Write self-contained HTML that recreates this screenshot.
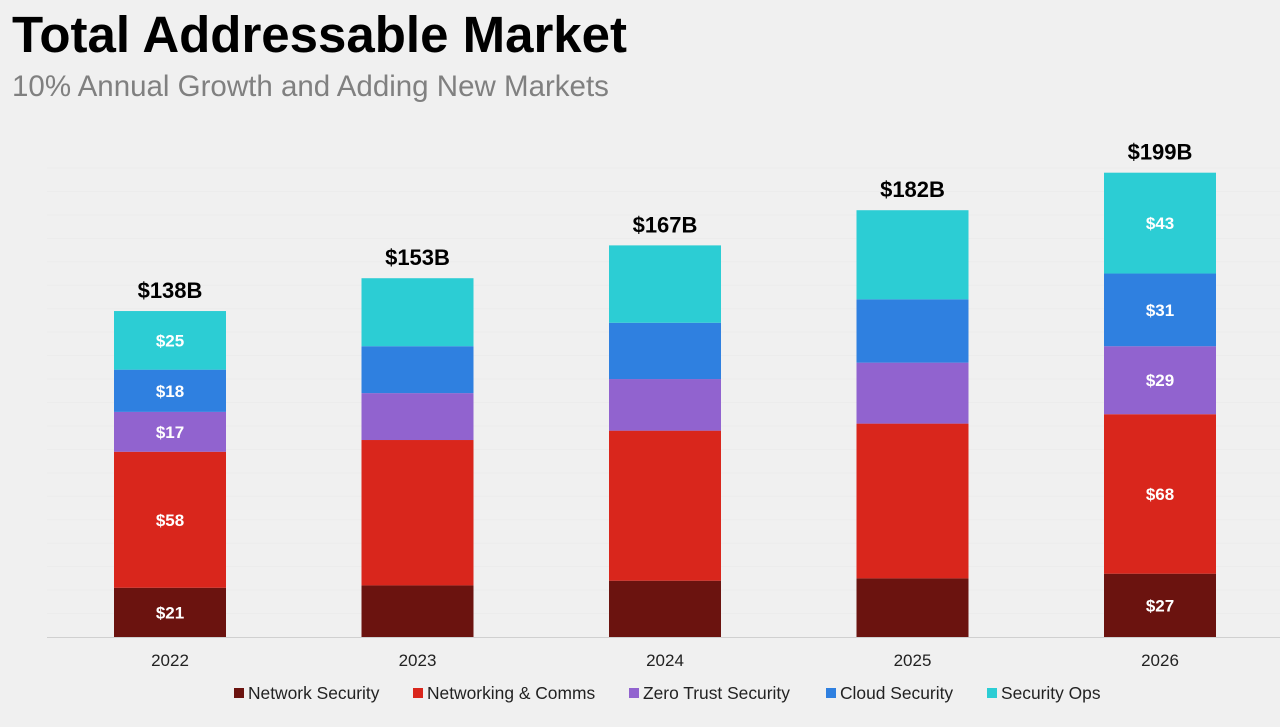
<!DOCTYPE html>
<html><head><meta charset="utf-8"><style>
body{margin:0;width:1280px;height:722px;background:#f0f0f0;font-family:"Liberation Sans",Arial,sans-serif;overflow:hidden}
</style></head><body>
<svg width="1280" height="722" xmlns="http://www.w3.org/2000/svg">
<text x="12" y="52" font-size="51" font-weight="bold" fill="#000">Total Addressable Market</text>
<text x="12" y="96" font-size="29.5" fill="#808080">10% Annual Growth and Adding New Markets</text>
<g id="grid"></g>
<g id="bars"></g>
<line x1="47" x2="1280" y1="637.5" y2="637.5" stroke="#d0d0d0" stroke-width="1"/>
<g id="legend"></g>
</svg>
<script>
const categories=["2022","2023","2024","2025","2026"];
const networkSecurity=[21,22,24,25,27];
const networkingComms=[58,62,64,66,68];
const zeroTrust=[17,20,22,26,29];
const cloudSecurity=[18,20,24,27,31];
const securityOps=[25,29,33,38,43];
const totals=["$138B","$153B","$167B","$182B","$199B"];
const showLabels=[true,false,false,false,true];
const seriesNames=["Network Security","Networking & Comms","Zero Trust Security","Cloud Security","Security Ops"];
const series=[networkSecurity,networkingComms,zeroTrust,cloudSecurity,securityOps];
const colors=["#6b130f","#d9261c","#9163cf","#2f80e0","#2ccdd4"];
const NS="http://www.w3.org/2000/svg";
const base=637,scale=2.345;
const y=v=>base-v*scale;
const xc=i=>170+i*247.5;
const bw=112;
const grid=document.getElementById('grid');
for(let v=10;v<=200;v+=10){const l=document.createElementNS(NS,'line');
l.setAttribute('x1',47);l.setAttribute('x2',1280);l.setAttribute('y1',y(v));l.setAttribute('y2',y(v));
l.setAttribute('stroke','#ececec');


grid.appendChild(l);}
const g=document.getElementById('bars');
categories.forEach((c,i)=>{
 let cum=0;
 series.forEach((s,k)=>{
  const r=document.createElementNS(NS,'rect');
  r.setAttribute('x',xc(i)-bw/2);r.setAttribute('y',y(cum+s[i]));
  r.setAttribute('width',bw);r.setAttribute('height',s[i]*scale);r.setAttribute('fill',colors[k]);
  
  
  g.appendChild(r);
  if(showLabels[i]){const t=document.createElementNS(NS,'text');
   t.setAttribute('x',xc(i));t.setAttribute('y',y(cum+s[i]/2)+6);t.setAttribute('text-anchor','middle');
   t.setAttribute('fill','#fff');t.setAttribute('font-size','17');t.setAttribute('font-weight','bold');
   t.textContent='$'+s[i];
   
   
   g.appendChild(t);}
  cum+=s[i];
 });
 const t=document.createElementNS(NS,'text');
 t.setAttribute('x',xc(i));t.setAttribute('y',y(cum)-13);t.setAttribute('text-anchor','middle');
 t.setAttribute('font-size','22');t.setAttribute('font-weight','bold');t.textContent=totals[i];
 
 
 g.appendChild(t);
 const a=document.createElementNS(NS,'text');
 a.setAttribute('x',xc(i));a.setAttribute('y',666);a.setAttribute('text-anchor','middle');
 a.setAttribute('font-size','17');a.setAttribute('fill','#222');a.textContent=c;
 
 
 g.appendChild(a);
});
const lg=document.getElementById('legend');
const lx=[234,413,629,826,987];
seriesNames.forEach((n,k)=>{
 const r=document.createElementNS(NS,'rect');
 r.setAttribute('x',lx[k]);r.setAttribute('y',688);r.setAttribute('width',10);r.setAttribute('height',10);r.setAttribute('fill',colors[k]);
 
 
 lg.appendChild(r);
 const t=document.createElementNS(NS,'text');
 t.setAttribute('x',lx[k]+14);t.setAttribute('y',699);t.setAttribute('font-size','17.4');t.setAttribute('fill','#222');t.textContent=n;
 
 
 lg.appendChild(t);
});
</script>
</body></html>
